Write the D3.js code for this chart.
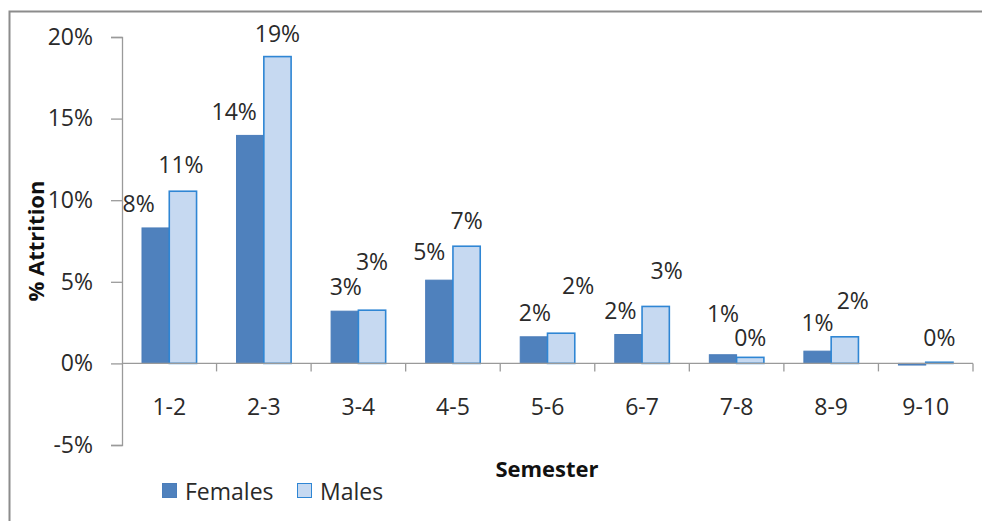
<!DOCTYPE html>
<html>
<head>
<meta charset="utf-8">
<script src="https://cdn.jsdelivr.net/npm/d3@7"></script>
<style>
  body { margin: 0; background: #fff; }
  svg { display: block; font-family: "Open Sans", Lato, sans-serif; }
</style>
</head>
<body>
<div id="chart"></div>
<script>
// chart data
const semesters = ['1-2', '2-3', '3-4', '4-5', '5-6', '6-7', '7-8', '8-9', '9-10']
const females = [0.083, 0.1397, 0.032, 0.051, 0.0163, 0.0177, 0.0053, 0.0075, -0.001]
const males = [0.1055, 0.188, 0.0326, 0.0718, 0.0185, 0.0349, 0.0037, 0.0163, 0.0007]
const seriesNames = ['Females', 'Males']
const yTicks = [-0.05, 0, 0.05, 0.10, 0.15, 0.20]

// hand placed label nudges (dx, dy) as in the original
const nudgeF = [[-17, 0], [-16, 1], [1, 0], [-10, -4], [1, 0], [-8, 0], [0, -17], [0, -4], [0, 0]]
const nudgeM = [[-2, -2], [0, 1], [0, -24], [0, -1], [17, -23], [11, -11], [0, 5], [8, -12], [0, 0]]

const width = 982,
  height = 521,
  plotLeft = 122,
  plotRight = 973,
  plotTop = 37,
  plotBottom = 445,
  fontSize = 23

const colors = { Females: '#4F81BD', Males: '#C6D9F1' }
const strokes = { Females: '#4A7DBA', Males: '#2F86D4' }
const textColor = '#2a2a2a'

let svg = d3.select('#chart')
  .append('svg')
  .attr('width', width)
  .attr('height', height)

// outer frame
svg.append('rect')
  .attr('x', 9.5).attr('y', 11.5)
  .attr('width', 1000).attr('height', 600)
  .attr('fill', 'none')
  .attr('stroke', '#8c8c8c')
  .attr('stroke-width', 2)

const x = d3.scaleBand()
  .domain(semesters)
  .range([plotLeft, plotRight])

const inner = d3.scaleBand()
  .domain(seriesNames)
  .range([20, x.bandwidth() - 20])

const y = d3.scaleLinear()
  .domain([-0.05, 0.20])
  .range([plotBottom, plotTop])

// plain hyphen for negatives, like the original
const pct = v => d3.format('.0%')(v).replace('−', '-')

// y axis
const yAxis = svg.append('g')
  .attr('transform', `translate(${plotLeft},0)`)
  .call(d3.axisLeft(y).tickValues(yTicks).tickFormat(pct).tickSize(11).tickPadding(18))
yAxis.select('.domain').attr('stroke', '#9a9a9a').attr('stroke-width', 1.3)
yAxis.selectAll('.tick line').attr('stroke', '#9a9a9a').attr('stroke-width', 1.3)
yAxis.selectAll('text').attr('font-size', fontSize).attr('fill', textColor)
  .attr('font-family', '"Open Sans", sans-serif')

// bars
const rows = semesters.map((s, i) => ({ s, i, Females: females[i], Males: males[i] }))

seriesNames.forEach(name => {
  svg.append('g')
    .selectAll('rect')
    .data(rows)
    .enter()
    .append('rect')
    .attr('x', d => x(d.s) + inner(name))
    .attr('y', d => y(Math.max(0, d[name])))
    .attr('width', inner.bandwidth())
    .attr('height', d => Math.abs(y(d[name]) - y(0)))
    .attr('fill', colors[name])
    .attr('stroke', strokes[name])
    .attr('stroke-width', name === 'Males' ? 1.6 : 1)
})

// x axis at zero
const xAxis = svg.append('g')
  .attr('transform', `translate(0,${y(0)})`)
xAxis.append('line')
  .attr('x1', plotLeft).attr('x2', plotRight)
  .attr('stroke', '#9a9a9a').attr('stroke-width', 1.3)
xAxis.selectAll('.tk')
  .data(semesters.map(s => x(s)).concat([plotRight]).slice(1))
  .enter()
  .append('line')
  .attr('x1', d => d).attr('x2', d => d)
  .attr('y1', 0).attr('y2', 8)
  .attr('stroke', '#9a9a9a').attr('stroke-width', 1.3)
xAxis.selectAll('text')
  .data(semesters)
  .enter()
  .append('text')
  .attr('x', d => x(d) + x.bandwidth() / 2)
  .attr('y', 43)
  .attr('text-anchor', 'middle')
  .attr('dominant-baseline', 'central')
  .attr('font-size', fontSize)
  .attr('fill', textColor)
  .text(d => d)

// data labels
const addLabels = (name, values, nudge) => {
  svg.append('g')
    .selectAll('text')
    .data(rows.filter(d => values[d.i] >= 0))
    .enter()
    .append('text')
    .attr('x', d => x(d.s) + inner(name) + inner.bandwidth() / 2 + nudge[d.i][0])
    .attr('y', d => y(values[d.i]) - 25 + nudge[d.i][1])
    .attr('text-anchor', 'middle')
    .attr('dominant-baseline', 'central')
    .attr('font-size', fontSize)
    .attr('fill', textColor)
    .text(d => pct(values[d.i]))
}
addLabels('Females', females, nudgeF)
addLabels('Males', males, nudgeM)

// axis titles
svg.append('text')
  .attr('transform', `translate(35,${(plotTop + plotBottom) / 2}) rotate(-90)`)
  .attr('text-anchor', 'middle')
  .attr('dominant-baseline', 'central')
  .attr('font-size', 22)
  .attr('font-weight', 'bold')
  .attr('fill', '#111')
  .text('% Attrition')

svg.append('text')
  .attr('x', 547).attr('y', 468)
  .attr('text-anchor', 'middle')
  .attr('dominant-baseline', 'central')
  .attr('font-size', 22)
  .attr('font-weight', 'bold')
  .attr('fill', '#111')
  .text('Semester')

// legend
const legendX = [162, 297]
const legend = svg.selectAll('.legend')
  .data(seriesNames)
  .enter()
  .append('g')
  .attr('transform', (d, i) => `translate(${legendX[i]},483)`)
legend.append('rect')
  .attr('x', 0.5).attr('y', 0.5)
  .attr('width', 14).attr('height', 14)
  .attr('fill', d => colors[d])
  .attr('stroke', d => strokes[d])
legend.append('text')
  .attr('x', 23).attr('y', 7.5)
  .attr('dominant-baseline', 'central')
  .attr('font-size', fontSize)
  .attr('fill', textColor)
  .text(d => d)
</script>
</body>
</html>
